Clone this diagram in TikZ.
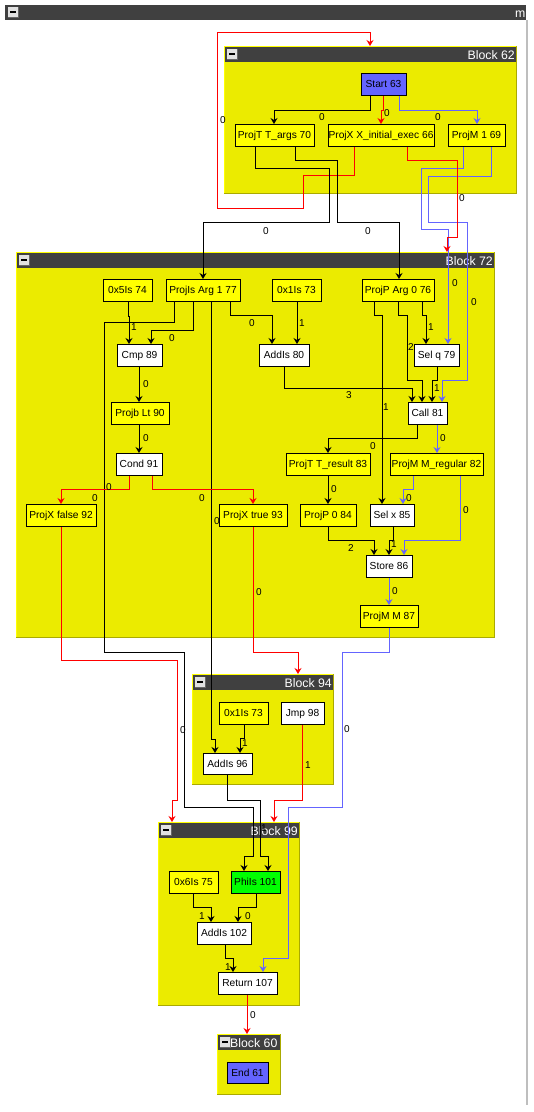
\documentclass[tikz,border=0pt]{standalone}
\usepackage{fontspec}
\setmainfont{Liberation Sans}
\usetikzlibrary{arrows.meta}
\definecolor{blkfill}{RGB}{235,235,0}
\definecolor{blkdark}{RGB}{170,170,0}
\definecolor{blklite}{RGB}{255,255,0}
\definecolor{barcol}{RGB}{64,64,64}
\definecolor{ny}{RGB}{255,255,0}
\definecolor{nb}{RGB}{100,100,255}
\definecolor{ng}{RGB}{0,255,0}
\definecolor{eb}{RGB}{100,100,255}
\definecolor{er}{RGB}{255,0,0}
\definecolor{framegray}{RGB}{190,190,190}
\definecolor{btnfill}{RGB}{225,225,225}
\pgfdeclarelayer{blocks}
\pgfdeclarelayer{wires}
\pgfsetlayers{blocks,wires,main}
\tikzset{
  irbox/.style={draw=black, line width=1pt, inner sep=0pt, outer sep=0pt, anchor=north west,
    font=\fontsize{10.2}{12}\selectfont, text height=7.2pt, text depth=0pt},
  blockbox/.style={fill=blkfill, draw=none, inner sep=0pt, outer sep=0pt, anchor=north west},
  titletext/.style={text=white, inner sep=0pt, font=\fontsize{12.3}{14}\selectfont},
  lbl/.style={inner sep=0pt, font=\fontsize{10}{12}\selectfont, text height=7pt, text depth=0pt},
  wire/.style={line width=1pt, -{Stealth[length=6pt,width=7pt,inset=2pt]}},
  wk/.style={wire, draw=black},
  wr/.style={wire, draw=er},
  wb/.style={wire, draw=eb},
}
\newcommand\minusbtn[2]{%
  \fill[btnfill] (#1,#2) rectangle ++(10,10);
  \draw[black!60, line width=0.6pt] (#1+10,#2) -- ++(0,10) -- ++(-10,0);
  \draw[black, line width=1.4pt] (#1+2,#2+5) -- (#1+8,#2+5);
}
\newcommand\irblock[8]{%
  \node[blockbox, minimum width={(#4-#2)*1pt}, minimum height={(#5-#3)*1pt}] (#1) at (#2,#3) {};
  \draw[blklite, line width=1pt] (#2,#5) -- (#2,#3) -- (#4,#3);
  \draw[blkdark, line width=1pt] (#4,#3) -- (#4,#5) -- (#2,#5);
  \fill[barcol] (#2+0.5,#3+0.5) rectangle (#4-0.5,#3+16);
  \begin{scope}
    \clip (#2+14,#3+1) rectangle (#4-0.5,#3+16);
    \node[titletext, #7] (#1t) at (#8,#3+13) {#6};
  \end{scope}
  \minusbtn{#2+3}{#3+3}%
}
\newcommand\irnode[7]{%
  \node[irbox, fill=#2, minimum width={(#5-#3)*1pt}, minimum height={(#6-#4)*1pt}] (#1) at (#3,#4) {#7};
}
\begin{document}
\begin{tikzpicture}[x=1pt,y=-1pt]
\useasboundingbox (0,0) rectangle (534,1112);
\begin{pgfonlayer}{blocks}
  \fill[white] (0,0) rectangle (534,1112);
  % outer frame
  \draw[framegray, line width=1.5pt] (527,20) -- (527,1105);
  \fill[barcol] (5,5) rectangle (526,20);
  \begin{scope}
    \clip (5,5) rectangle (526,20);
    \node[titletext, anchor=base west] (outert) at (515,17) {m};
  \end{scope}
  \minusbtn{8}{7}
  % blocks
  \irblock{b62}{224}{46}{516}{193}{Block 62}{anchor=base east}{515}
  \irblock{b72}{16}{252}{494}{637}{Block 72}{anchor=base east}{493}
  \irblock{b94}{192}{674}{333}{784}{Block 94}{anchor=base east}{332}
  \irblock{b99}{158}{822}{299}{1005}{Block 99}{anchor=base east}{298}
  \irblock{b60}{217}{1034}{280}{1094}{Block 60}{anchor=base west}{230}
\end{pgfonlayer}

% nodes
\irnode{n63}{nb}{361}{73}{406}{95}{Start 63}
\irnode{n70}{ny}{235}{124}{314}{146}{ProjT T\_args 70}
\irnode{n66}{ny}{328}{124}{434}{146}{ProjX X\_initial\_exec 66}
\irnode{n69}{ny}{448}{124}{505}{146}{ProjM 1 69}
\irnode{n74}{ny}{103}{279}{152}{301}{0x5Is 74}
\irnode{n77}{ny}{166}{279}{240}{301}{ProjIs Arg 1 77}
\irnode{n73a}{ny}{272}{279}{321}{301}{0x1Is 73}
\irnode{n76}{ny}{362}{279}{434}{301}{ProjP Arg 0 76}
\irnode{n89}{white}{117}{344}{162}{366}{Cmp 89}
\irnode{n80}{white}{259}{344}{309}{366}{AddIs 80}
\irnode{n79}{white}{414}{344}{459}{366}{Sel q 79}
\irnode{n90}{ny}{111}{402}{169}{424}{Projb Lt 90}
\irnode{n81}{white}{408}{402}{447}{424}{Call 81}
\irnode{n91}{white}{116}{453}{162}{475}{Cond 91}
\irnode{n83}{ny}{286}{453}{370}{475}{ProjT T\_result 83}
\irnode{n82}{ny}{390}{453}{483}{475}{ProjM M\_regular 82}
\irnode{n92}{ny}{26}{504}{96}{526}{ProjX false 92}
\irnode{n93}{ny}{219}{504}{287}{526}{ProjX true 93}
\irnode{n84}{ny}{300}{504}{356}{526}{ProjP 0 84}
\irnode{n85}{white}{370}{504}{414}{526}{Sel x 85}
\irnode{n86}{white}{366}{555}{412}{577}{Store 86}
\irnode{n87}{ny}{360}{605}{418}{627}{ProjM M 87}
\irnode{n73b}{ny}{219}{702}{268}{724}{0x1Is 73}
\irnode{n98}{white}{281}{702}{324}{724}{Jmp 98}
\irnode{n96}{white}{203}{753}{252}{774}{AddIs 96}
\irnode{n75}{ny}{169}{871}{218}{893}{0x6Is 75}
\irnode{n101}{ng}{231}{871}{280}{893}{PhiIs 101}
\irnode{n102}{white}{197}{922}{251}{944}{AddIs 102}
\irnode{n107}{white}{218}{972}{277}{994}{Return 107}
\irnode{n61}{nb}{227}{1062}{268}{1083}{End 61}

\begin{pgfonlayer}{wires}
  \draw[wr] ([xshift=26pt]n66.south west) |- (303,175) |- (217,208) |- (370,32) -| ([xshift=146pt]b62.north west);
  \draw[wk] ([xshift=9pt]n63.south west) |- (274,110) -| ([xshift=39pt]n70.north west);
  \draw[wr] ([xshift=22pt]n63.south west) |- (381,110) -| ([xshift=53pt]n66.north west);
  \draw[wb] ([xshift=38pt]n63.south west) |- (477,110) -| ([xshift=29pt]n69.north west);
  \draw[wk] ([xshift=20pt]n70.south west) |- (329,168) |- (203,222) -| ([xshift=37pt]n77.north west);
  \draw[wk] ([xshift=60pt]n70.south west) |- (337,160) |- (399,222) -| ([xshift=37pt]n76.north west);
  \draw[wb] ([xshift=15pt]n69.south west) |- (421,168) |- (448,229) -| ([xshift=34pt]n79.north west);
  \draw[wb] ([xshift=43pt]n69.south west) |- (428,176) |- (467,222) |- (442,380) -| ([xshift=34pt]n81.north west);
  \draw[wr] ([xshift=79pt]n66.south west) |- (457,160) |- (447,237) -| ([xshift=431pt]b72.north west);
  \draw[wk] ([xshift=25pt]n74.south west) |- (129,316) -| ([xshift=12pt]n89.north west);
  \draw[wk] ([xshift=27pt]n77.south west) |- (151,330) -| ([xshift=34pt]n89.north west);
  \draw[wk] ([xshift=8pt]n77.south west) |- (104,322) |- (184,652) |- (253,807) |- (244,856) -| ([xshift=13pt]n101.north west);
  \draw[wk] ([xshift=45pt]n77.south west) |- (215,739) -| ([xshift=12pt]n96.north west);
  \draw[wk] ([xshift=64pt]n77.south west) |- (272,315) -| ([xshift=13pt]n80.north west);
  \draw[wk] ([xshift=25pt]n73a.south west) -- ([xshift=38pt]n80.north west);
  \draw[wk] ([xshift=25pt]n80.south west) |- (412,388) -| ([xshift=4pt]n81.north west);
  \draw[wk] ([xshift=12pt]n76.south west) |- (382,315) -| ([xshift=12pt]n85.north west);
  \draw[wk] ([xshift=36pt]n76.south west) |- (407,315) |- (422,380) -| ([xshift=14pt]n81.north west);
  \draw[wk] ([xshift=60pt]n76.south west) |- (426,315) -| ([xshift=12pt]n79.north west);
  \draw[wk] ([xshift=23pt]n79.south west) |- (432,380) -| ([xshift=24pt]n81.north west);
  \draw[wk] ([xshift=22pt]n89.south west) -- ([xshift=28pt]n90.north west);
  \draw[wk] ([xshift=28pt]n90.south west) -- ([xshift=23pt]n91.north west);
  \draw[wr] ([xshift=13pt]n91.south west) |- (61,489) -| ([xshift=35pt]n92.north west);
  \draw[wr] ([xshift=36pt]n91.south west) |- (253,489) -| ([xshift=34pt]n93.north west);
  \draw[wk] ([xshift=9pt]n81.south west) |- (328,438) -| ([xshift=42pt]n83.north west);
  \draw[wb] ([xshift=29pt]n81.south west) -- ([xshift=47pt]n82.north west);
  \draw[wk] ([xshift=42pt]n83.south west) -- ([xshift=28pt]n84.north west);
  \draw[wb] ([xshift=23pt]n82.south west) |- (403,489) -| ([xshift=33pt]n85.north west);
  \draw[wb] ([xshift=70pt]n82.south west) |- (404,540) -| ([xshift=38pt]n86.north west);
  \draw[wk] ([xshift=28pt]n84.south west) |- (374,540) -| ([xshift=8pt]n86.north west);
  \draw[wk] ([xshift=23pt]n85.south west) |- (389,540) -| ([xshift=23pt]n86.north west);
  \draw[wb] ([xshift=23pt]n86.south west) -- ([xshift=29pt]n87.north west);
  \draw[wb] ([xshift=29pt]n87.south west) |- (342,652) |- (288,807) |- (263,958) -| ([xshift=45pt]n107.north west);
  \draw[wr] ([xshift=35pt]n92.south west) |- (177,660) |- (172,800) -| ([xshift=14pt]b99.north west);
  \draw[wr] ([xshift=34pt]n93.south west) |- (298,652) -| ([xshift=106pt]b94.north west);
  \draw[wk] ([xshift=25pt]n73b.south west) |- (240,738) -| ([xshift=37pt]n96.north west);
  \draw[wr] ([xshift=21pt]n98.south west) |- (274,800) -| ([xshift=116pt]b99.north west);
  \draw[wk] ([xshift=24pt]n96.south west) |- (260,800) |- (268,856) -| ([xshift=37pt]n101.north west);
  \draw[wk] ([xshift=24pt]n75.south west) |- (211,907) -| ([xshift=14pt]n102.north west);
  \draw[wk] ([xshift=25pt]n101.south west) |- (238,907) -| ([xshift=41pt]n102.north west);
  \draw[wk] ([xshift=28pt]n102.south west) |- (233,958) -| ([xshift=15pt]n107.north west);
  \draw[wr] ([xshift=29pt]n107.south west) -- ([xshift=30pt]b60.north west);
  % labels
  \node[lbl] (l01) at (387,113) {0};
  \node[lbl] (l02) at (322,117) {0};
  \node[lbl] (l03) at (438,117) {0};
  \node[lbl] (l04) at (223,120) {0};
  \node[lbl] (l05) at (266,231) {0};
  \node[lbl] (l06) at (368,231) {0};
  \node[lbl] (l07) at (462,198) {0};
  \node[lbl] (l08) at (455,283) {0};
  \node[lbl] (l09) at (474,302) {0};
  \node[lbl] (l10) at (134,327) {1};
  \node[lbl] (l11) at (172,338) {0};
  \node[lbl] (l12) at (252,323) {0};
  \node[lbl] (l13) at (302,323) {1};
  \node[lbl] (l14) at (349,395) {3};
  \node[lbl] (l15) at (386,407) {1};
  \node[lbl] (l16) at (411,347) {2};
  \node[lbl] (l17) at (431,327) {1};
  \node[lbl] (l18) at (437,388) {1};
  \node[lbl] (l19) at (146,384) {0};
  \node[lbl] (l20) at (146,438) {0};
  \node[lbl] (l21) at (109,487) {0};
  \node[lbl] (l22) at (95,498) {0};
  \node[lbl] (l23) at (202,498) {0};
  \node[lbl] (l24) at (217,521) {0};
  \node[lbl] (l25) at (373,446) {0};
  \node[lbl] (l26) at (443,438) {0};
  \node[lbl] (l27) at (334,489) {0};
  \node[lbl] (l28) at (409,498) {0};
  \node[lbl] (l29) at (466,510) {0};
  \node[lbl] (l30) at (351,548) {2};
  \node[lbl] (l31) at (394,544) {1};
  \node[lbl] (l32) at (395,591) {0};
  \node[lbl] (l33) at (259,592) {0};
  \node[lbl] (l34) at (183,730) {0};
  \node[lbl] (l35) at (347,729) {0};
  \node[lbl] (l36) at (245,743) {1};
  \node[lbl] (l37) at (308,765) {1};
  \node[lbl] (l38) at (264,828) {1};
  \node[lbl] (l39) at (202,916) {1};
  \node[lbl] (l40) at (248,916) {0};
  \node[lbl] (l41) at (228,967) {1};
  \node[lbl] (l42) at (253,1015) {0};
\end{pgfonlayer}
\end{tikzpicture}
\end{document}
